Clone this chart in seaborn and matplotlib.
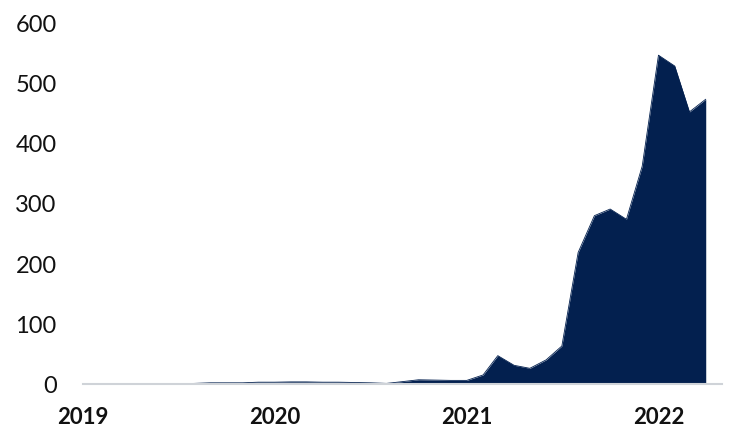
import matplotlib
matplotlib.use("Agg")
import matplotlib.pyplot as plt
import numpy as np
import pandas as pd
import seaborn as sns

# Monthly counts, Jan 2019 - Apr 2022
months = pd.date_range("2019-01-01", "2022-04-01", freq="MS")
counts = [
    0.5, 0.5, 0.5, 0.5, 0.5, 0.5, 0.5, 1, 2, 2, 2, 3,          # 2019
    3, 3.5, 3.5, 3, 3, 2.5, 2, 1, 4, 7, 6.5, 6,                # 2020
    6, 15, 47, 31, 26, 40, 63, 218, 279, 290, 273, 361,        # 2021
    545, 527, 451, 472,                                        # 2022
]
year_ticks = ["2019", "2020", "2021", "2022"]
y_ticks = [0, 100, 200, 300, 400, 500, 600]

df = pd.DataFrame({"month": months, "count": counts})

sns.set_theme(style="white")
plt.rcParams["font.family"] = ["Lato", "DejaVu Sans"]

navy = "#03204f"

fig = plt.figure(figsize=(7.34, 4.31), dpi=100)
ax = fig.add_axes([83 / 734, 1 - 385 / 431, (722 - 83) / 734, (385 - 23) / 431])

sns.lineplot(data=df, x="month", y="count", ax=ax, color=navy, linewidth=0.6)
ax.fill_between(df["month"], 0, df["count"], color=navy, linewidth=0)

ax.set_xlim(pd.Timestamp("2019-01-01"), pd.Timestamp("2022-05-02"))
ax.set_ylim(0, 600)

ax.set_xticks([pd.Timestamp(f"{y}-01-01") for y in year_ticks])
ax.set_xticklabels(year_ticks, fontsize=16, fontweight="bold", color="#111111")
ax.set_yticks(y_ticks)
ax.set_yticklabels([str(v) for v in y_ticks], fontsize=17, color="#111111")

ax.tick_params(axis="x", length=0, pad=16)
ax.tick_params(axis="y", length=0, pad=19)

ax.set_xlabel("")
ax.set_ylabel("")
for side in ["top", "right", "left"]:
    ax.spines[side].set_visible(False)
ax.spines["bottom"].set_color("#cfd3d8")
ax.spines["bottom"].set_linewidth(1.5)
ax.grid(False)

fig.savefig("out.png", dpi=100)
